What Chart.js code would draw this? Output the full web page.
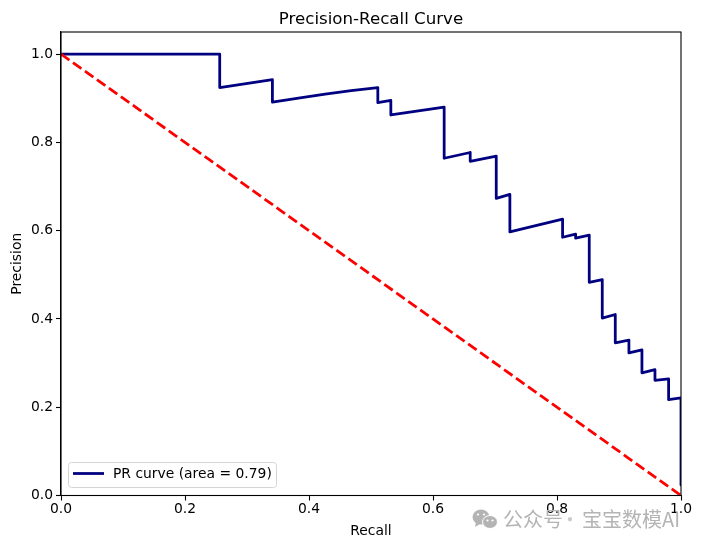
<!DOCTYPE html>
<html>
<head>
<meta charset="utf-8">
<style>
  html, body { margin: 0; padding: 0; background: #fff; }
  canvas { display: block; }
</style>
<script src="https://cdn.jsdelivr.net/npm/chart.js@4"></script>
</head>
<body>
<canvas id="prChart" width="702" height="547"></canvas>
<script>
const recall = [0, 0.256, 0.256, 0.341, 0.341, 0.383, 0.426, 0.468, 0.511, 0.511, 0.532, 0.532, 0.618, 0.618,
    0.660, 0.660, 0.702, 0.702, 0.724, 0.724, 0.809, 0.809, 0.830, 0.830, 0.852, 0.852,
    0.873, 0.873, 0.894, 0.894, 0.916, 0.916, 0.937, 0.937, 0.958, 0.958, 0.980, 0.980, 1, 1];
const precision = [1, 1, 0.924, 0.942, 0.891, 0.900, 0.909, 0.917, 0.924, 0.890, 0.895, 0.862, 0.880, 0.764,
    0.777, 0.757, 0.769, 0.673, 0.682, 0.597, 0.626, 0.585, 0.592, 0.583, 0.590, 0.483,
    0.489, 0.402, 0.410, 0.346, 0.352, 0.323, 0.330, 0.278, 0.285, 0.261, 0.264, 0.217, 0.221, 0.024];
const chanceRecall = [0, 1];
const chancePrecision = [1, 0];
const xTicks = [0, 0.2, 0.4, 0.6, 0.8, 1];
const yTicks = [0, 0.2, 0.4, 0.6, 0.8, 1];

const FONT = '"DejaVu Sans", sans-serif';
const legendLabel = 'PR curve (area = 0.79)';
const watermarkParts = ['公众号', '·', '宝宝数模AI'];

// top and right spines, the scales only draw their own side
const frame = {
    id: 'frame',
    afterDatasetsDraw(chart) {
        const { ctx, chartArea: a } = chart;
        ctx.save();
        ctx.strokeStyle = '#000';
        ctx.lineWidth = 1.1;
        ctx.strokeRect(a.left, a.top, a.right - a.left, a.bottom - a.top);
        ctx.restore();
    }
};

// legend sits inside the axes, lower left
const insideLegend = {
    id: 'insideLegend',
    afterDraw(chart) {
        const { ctx } = chart;
        ctx.save();
        ctx.beginPath();
        ctx.roundRect(68.5, 462.5, 208, 25, 3);
        ctx.fillStyle = 'rgba(255,255,255,0.8)';
        ctx.fill();
        ctx.strokeStyle = '#d5d5d5';
        ctx.lineWidth = 1;
        ctx.stroke();
        ctx.strokeStyle = 'navy';
        ctx.lineWidth = 2.78;
        ctx.beginPath();
        ctx.moveTo(73, 473.5);
        ctx.lineTo(104, 473.5);
        ctx.stroke();
        ctx.fillStyle = '#000';
        ctx.font = '13.89px ' + FONT;
        ctx.textBaseline = 'middle';
        ctx.fillText(legendLabel, 113, 474);
        ctx.restore();
    }
};

const watermarkPlugin = {
    id: 'watermark',
    beforeDatasetsDraw(chart) {
        const { ctx } = chart;
        ctx.save();
        ctx.fillStyle = '#b4b4b4';
        ctx.beginPath();
        ctx.ellipse(481, 517, 8.5, 7.5, 0, 0, Math.PI * 2);
        ctx.fill();
        ctx.beginPath();
        ctx.moveTo(476, 522);
        ctx.lineTo(475, 527);
        ctx.lineTo(480, 524);
        ctx.fill();
        ctx.beginPath();
        ctx.ellipse(490, 522, 7.5, 6.5, 0, 0, Math.PI * 2);
        ctx.strokeStyle = '#fff';
        ctx.lineWidth = 1;
        ctx.fill();
        ctx.stroke();
        ctx.fillStyle = '#fff';
        [[478, 514.5], [484, 514.5], [487.5, 520.5], [492.5, 520.5]].forEach(([ex, ey]) => {
            ctx.beginPath();
            ctx.arc(ex, ey, 1.1, 0, Math.PI * 2);
            ctx.fill();
        });
        ctx.fillStyle = '#b4b4b4';
        ctx.font = '20px "Noto Sans CJK SC", sans-serif';
        ctx.textBaseline = 'middle';
        ctx.fillText(watermarkParts[0], 503, 519);
        ctx.fillStyle = '#cccccc';
        ctx.textAlign = 'center';
        ctx.fillText(watermarkParts[1], 570, 519);
        ctx.fillStyle = '#b4b4b4';
        ctx.textAlign = 'left';
        ctx.fillText(watermarkParts[2], 582, 519);
        ctx.restore();
    }
};

const axisCommon = {
    type: 'linear',
    grid: { drawOnChartArea: false, drawTicks: true, tickLength: 5, tickColor: '#000', tickWidth: 1.1 },
    border: { display: true, color: '#000', width: 1.1 }
};

new Chart(document.getElementById('prChart').getContext('2d'), {
    type: 'line',
    data: {
        datasets: [{
            label: legendLabel,
            data: recall.map((r, i) => ({ x: r, y: precision[i] })),
            borderColor: 'navy',
            borderWidth: 2.78,
            pointRadius: 0,
            tension: 0,
            fill: false,
            clip: 0,
            borderJoinStyle: 'round',
            order: 2
        }, {
            label: 'chance',
            data: chanceRecall.map((r, i) => ({ x: r, y: chancePrecision[i] })),
            borderColor: 'red',
            borderWidth: 2.78,
            borderDash: [10.3, 4.4],
            pointRadius: 0,
            tension: 0,
            fill: false,
            clip: 0,
            order: 1
        }]
    },
    options: {
        responsive: false,
        animation: false,
        devicePixelRatio: 1,
        layout: { padding: { left: 0, right: 21, top: 0, bottom: 0 } },
        plugins: {
            legend: { display: false },
            tooltip: { enabled: false },
            title: {
                display: true,
                fullSize: false,
                text: 'Precision-Recall Curve',
                color: '#000',
                font: { family: FONT, size: 16.67, weight: 'normal', lineHeight: 1.2 },
                padding: { top: 10, bottom: 2 }
            }
        },
        scales: {
            x: {
                ...axisCommon,
                min: 0,
                max: 1,
                afterFit(scale) { scale.height = 51.5; },
                afterBuildTicks(scale) { scale.ticks = xTicks.map(v => ({ value: v })); },
                ticks: {
                    color: '#000',
                    font: { family: FONT, size: 13.89 },
                    padding: 1,
                    maxRotation: 0,
                    callback: v => v.toFixed(1)
                },
                title: {
                    display: true,
                    text: 'Recall',
                    color: '#000',
                    font: { family: FONT, size: 13.89 },
                    padding: { top: 0, bottom: 7 }
                }
            },
            y: {
                ...axisCommon,
                min: 0,
                max: 1.05,
                afterFit(scale) { scale.width = 61; },
                afterBuildTicks(scale) { scale.ticks = yTicks.map(v => ({ value: v })); },
                ticks: {
                    color: '#000',
                    font: { family: FONT, size: 13.89 },
                    padding: 3,
                    callback: v => v.toFixed(1)
                },
                title: {
                    display: true,
                    text: 'Precision',
                    color: '#000',
                    font: { family: FONT, size: 13.89 },
                    padding: { top: 9, bottom: 0 }
                }
            }
        }
    },
    plugins: [frame, insideLegend, watermarkPlugin]
});
</script>
</body>
</html>
